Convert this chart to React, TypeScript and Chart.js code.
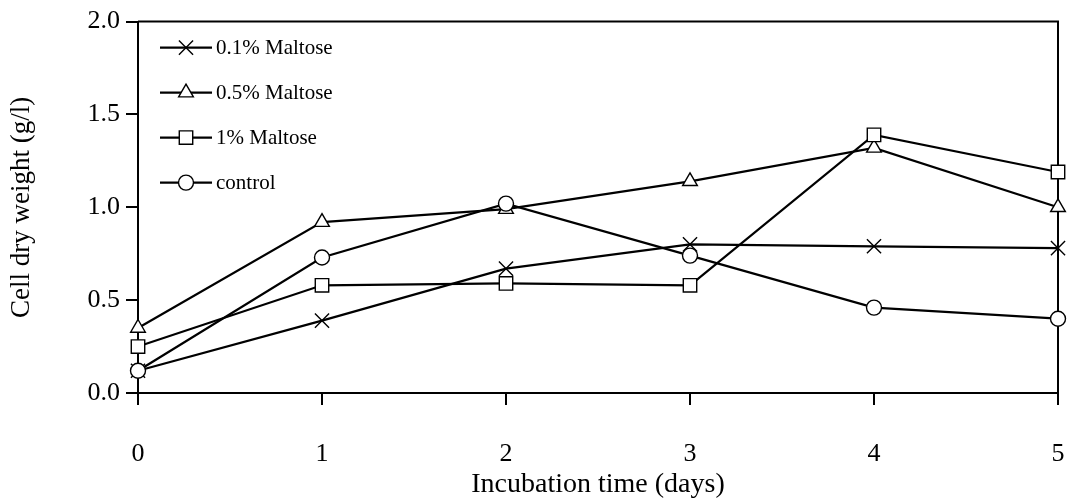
import { useEffect, useRef } from "react";
import { Chart, registerables } from "chart.js";

Chart.register(...registerables);

// Incubation time (days)
const days = [0, 1, 2, 3, 4, 5];

// Cell dry weight (g/l) per medium
const maltose01 = [0.12, 0.39, 0.67, 0.8, 0.79, 0.78];
const maltose05 = [0.35, 0.92, 0.99, 1.14, 1.32, 1.0];
const maltose1 = [0.25, 0.58, 0.59, 0.58, 1.39, 1.19];
const control = [0.12, 0.73, 1.02, 0.74, 0.46, 0.4];

const seriesLabels = ["0.1% Maltose", "0.5% Maltose", "1% Maltose", "control"];
const seriesValues = [maltose01, maltose05, maltose1, control];
const seriesMarkers = ["crossRot", "triangle", "rect", "circle"];
const seriesRadius = [10, 8.5, 9.5, 7.5];
// lower order is painted on top
const seriesOrder = [3, 2, 1, 0];

const yTickValues = [0, 0.5, 1.0, 1.5, 2.0];

const FONT = "'Liberation Serif', 'Times New Roman', serif";

// Marker shapes drawn the same way Chart.js draws its point styles
function drawMarker(
  ctx: CanvasRenderingContext2D,
  style: string,
  x: number,
  y: number,
  r: number
) {
  ctx.beginPath();
  if (style === "circle") {
    ctx.arc(x, y, r, 0, Math.PI * 2);
    ctx.closePath();
    ctx.fill();
    ctx.stroke();
  } else if (style === "triangle") {
    let rad = 0;
    const step = (Math.PI * 2) / 3;
    ctx.moveTo(x + Math.sin(rad) * r, y - Math.cos(rad) * r);
    rad += step;
    ctx.lineTo(x + Math.sin(rad) * r, y - Math.cos(rad) * r);
    rad += step;
    ctx.lineTo(x + Math.sin(rad) * r, y - Math.cos(rad) * r);
    ctx.closePath();
    ctx.fill();
    ctx.stroke();
  } else if (style === "rect") {
    const s = Math.SQRT1_2 * r;
    ctx.rect(x - s, y - s, 2 * s, 2 * s);
    ctx.fill();
    ctx.stroke();
  } else if (style === "crossRot") {
    const d = Math.SQRT1_2 * r;
    ctx.moveTo(x - d, y - d);
    ctx.lineTo(x + d, y + d);
    ctx.moveTo(x - d, y + d);
    ctx.lineTo(x + d, y - d);
    ctx.stroke();
  }
}

// Top and right edges of the plot frame
const framePlugin = {
  id: "frame",
  beforeDatasetsDraw(chart: any) {
    const { ctx, chartArea } = chart;
    ctx.save();
    ctx.strokeStyle = "#000";
    ctx.lineWidth = 2;
    ctx.beginPath();
    ctx.moveTo(chartArea.left, chartArea.top);
    ctx.lineTo(chartArea.right, chartArea.top);
    ctx.lineTo(chartArea.right, chartArea.bottom);
    ctx.stroke();
    ctx.restore();
  },
};

// Legend inside the plot: line sample with marker, then the label
const insideLegendPlugin = {
  id: "insideLegend",
  afterDraw(chart: any) {
    const { ctx, chartArea } = chart;
    ctx.save();
    chart.data.datasets.forEach((ds: any, i: number) => {
      const y = chartArea.top + 26 + i * 45;
      const x0 = chartArea.left + 22;
      const x1 = chartArea.left + 74;
      ctx.strokeStyle = "#000";
      ctx.lineWidth = 2.2;
      ctx.beginPath();
      ctx.moveTo(x0, y);
      ctx.lineTo(x1, y);
      ctx.stroke();
      ctx.fillStyle = "#fff";
      ctx.lineWidth = 1.4;
      drawMarker(ctx, ds.pointStyle, (x0 + x1) / 2, y, ds.pointRadius);
      ctx.fillStyle = "#000";
      ctx.font = `21px ${FONT}`;
      ctx.textBaseline = "middle";
      ctx.textAlign = "left";
      ctx.fillText(ds.label, x1 + 4, y + 1);
    });
    ctx.restore();
  },
};

export default function App() {
  const canvasRef = useRef<HTMLCanvasElement | null>(null);

  useEffect(() => {
    if (!canvasRef.current) return;
    const chart = new Chart(canvasRef.current, {
      type: "line",
      data: {
        datasets: seriesLabels.map((label, i) => ({
          label,
          data: days.map((d, j) => ({ x: d, y: seriesValues[i][j] })),
          borderColor: "#000",
          borderWidth: 2.2,
          backgroundColor: "#fff",
          pointStyle: seriesMarkers[i] as any,
          pointRadius: seriesRadius[i],
          pointHoverRadius: seriesRadius[i],
          pointBorderWidth: 1.4,
          pointBorderColor: "#000",
          pointBackgroundColor: "#fff",
          tension: 0,
          fill: false,
          clip: false as any,
          order: seriesOrder[i],
        })),
      },
      plugins: [framePlugin, insideLegendPlugin],
      options: {
        animation: false,
        responsive: false,
        events: [],
        layout: { padding: { top: 20, right: 14, left: 0, bottom: 0 } },
        plugins: {
          legend: { display: false },
          tooltip: { enabled: false },
        },
        scales: {
          x: {
            type: "linear",
            min: 0,
            max: 5,
            afterFit(scale: any) {
              scale.height = 109;
              scale.paddingLeft = 0;
              scale.paddingRight = 0;
            },
            afterBuildTicks(scale: any) {
              scale.ticks = days.map((d) => ({ value: d }));
            },
            ticks: {
              color: "#000",
              font: { family: FONT, size: 26 },
              padding: 34,
              maxRotation: 0,
              callback: (v: any) => String(v),
            },
            grid: {
              drawOnChartArea: false,
              drawTicks: true,
              tickLength: 12,
              color: "#000",
              lineWidth: 2,
            },
            border: { display: true, color: "#000", width: 2 },
            title: {
              display: true,
              text: "Incubation time (days)",
              color: "#000",
              font: { family: FONT, size: 28 },
              padding: { top: 0, bottom: 1 },
            },
          },
          y: {
            type: "linear",
            min: 0,
            max: 2,
            afterFit(scale: any) {
              scale.width = 138;
            },
            afterBuildTicks(scale: any) {
              scale.ticks = yTickValues.map((v) => ({ value: v }));
            },
            ticks: {
              color: "#000",
              font: { family: FONT, size: 26 },
              padding: 6,
              callback: (v: any) => Number(v).toFixed(1),
            },
            grid: {
              drawOnChartArea: false,
              drawTicks: true,
              tickLength: 12,
              color: "#000",
              lineWidth: 2,
            },
            border: { display: true, color: "#000", width: 2 },
            title: {
              display: true,
              text: "Cell dry weight (g/l)",
              color: "#000",
              font: { family: FONT, size: 27 },
              padding: { top: 6, bottom: 0 },
            },
          },
        },
      },
    });
    return () => chart.destroy();
  }, []);

  return (
    <canvas
      ref={canvasRef}
      width={1072}
      height={502}
      style={{ position: "fixed", left: 0, top: 0, display: "block", background: "#fff" }}
    />
  );
}
